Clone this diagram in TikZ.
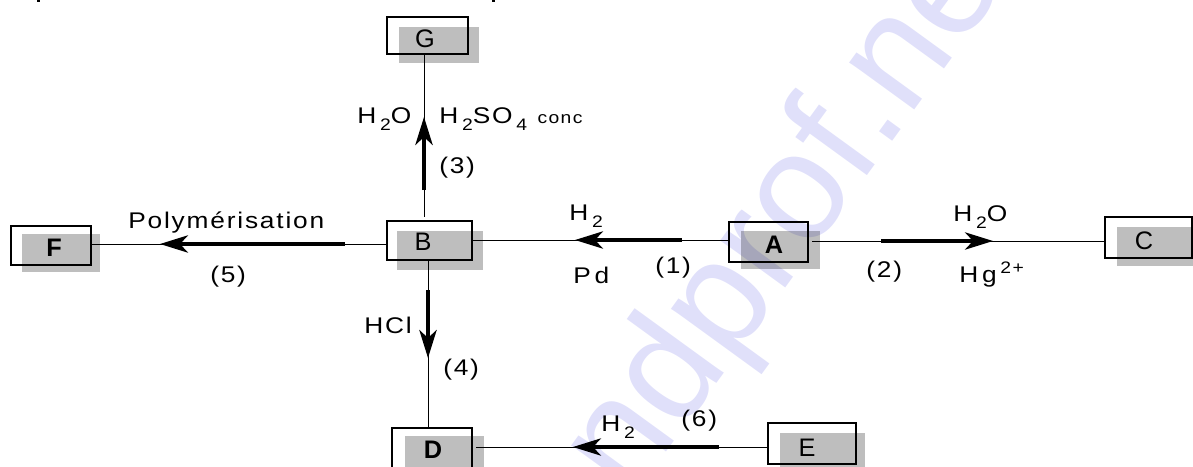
\documentclass[tikz,border=0pt]{standalone}
\usepackage{fontspec}
\setmainfont{Liberation Sans}
\newfontfamily\lab[LetterSpace=8,FakeStretch=1.16]{Liberation Sans}
\usetikzlibrary{arrows.meta,fit}
\definecolor{shade}{HTML}{BEBEBE}
\definecolor{wmark}{HTML}{E0E0FA}
\newcommand{\sbs}[1]{\raisebox{-5.5pt}{\fontsize{12.5}{12.5}\selectfont #1}}
\newcommand{\sps}[1]{\raisebox{6.5pt}{\fontsize{12.5}{12.5}\selectfont #1}}
\tikzset{
  x=0.75pt,y=-0.75pt,
  frame/.style={draw=black,line width=1.1pt,inner sep=0pt,outer sep=0pt,rectangle},
  shadow/.style={fill=shade,draw=none},
  letter/.style={inner sep=0pt,anchor=base,font=\fontsize{19}{19}\selectfont},
  boldletter/.style={letter,font=\fontsize{19}{19}\selectfont\bfseries},
  chem/.style={inner sep=0pt,anchor=base west,font=\lab\fontsize{17}{19}\selectfont},
  wire/.style={draw=black,line width=0.7pt},
  heavy/.style={draw=black,line width=2.3pt,-{Stealth[length=21pt,width=13pt,inset=6pt]}},
  heavyup/.style={heavy,line width=2.6pt},
}
\begin{document}
\begin{tikzpicture}
\useasboundingbox (0,0) rectangle (1193,467);
% shadows
\fill[shadow] (399,27) rectangle (479,63);
\fill[shadow] (397,231) rectangle (483,270);
\fill[shadow] (22,234) rectangle (100,272);
\fill[shadow] (741,231) rectangle (820,269);
\fill[shadow] (1117,227) rectangle (1193,266);
\fill[shadow] (405,436) rectangle (484,467);
\fill[shadow] (780,433) rectangle (865,467);
% cut-off strokes at the top edge
\fill[black] (37,0) rectangle (40,2);
\fill[black] (492,0) rectangle (495,2);
% boxes
\node[frame,fit={(387,17)(468,54)}] (G) {};
\node[frame,fit={(387,221)(472,260)}] (B) {};
\node[frame,fit={(11,226)(91,265)}] (F) {};
\node[frame,fit={(729,222)(808,262)}] (A) {};
\node[frame,fit={(1105,217)(1192,258)}] (C) {};
\node[frame,fit={(392,428)(472,470)}] (D) {};
\node[frame,fit={(768,423)(856,464)}] (E) {};
% box letters
\node[letter] (Gl) at (425,48) {G};
\node[letter] (Bl) at (423,250) {B};
\node[boldletter] (Fl) at (54,256) {F};
\node[boldletter] (Al) at (774,253) {A};
\node[letter] (Cl) at (1144,249) {C};
\node[boldletter] (Dl) at (433,458) {D};
\node[letter] (El) at (807,456) {E};
% anchors of the heavy parts
\coordinate (t3) at (424,190); \coordinate (h3) at (424,117);
\coordinate (t1) at (682,240); \coordinate (h1) at (575,240);
\coordinate (t5) at (345,244); \coordinate (h5) at (160,244);
\coordinate (t2) at (881,241); \coordinate (h2) at (993,241);
\coordinate (t4) at (428,290); \coordinate (h4) at (428,358);
\coordinate (t6) at (719,447); \coordinate (h6) at (573,447);
% connectors
\draw[wire,shorten >=3pt] (G.south -| t3) -- (B.north -| t3);
\draw[wire] (A.west |- t1) -- (B.east |- t1);
\draw[wire] (B.west |- t5) -- (F.east |- t5);
\draw[wire,shorten <=3pt] (A.east |- t2) -- (C.west |- t2);
\draw[wire] (B.south -| t4) -- (D.north -| t4);
\draw[wire,shorten >=3pt] (E.west |- t6) -- (D.east |- t6);
\draw[heavyup] (t3) -- (h3);
\draw[heavy] (t1) -- (h1);
\draw[heavy] (t5) -- (h5);
\draw[heavy] (t2) -- (h2);
\draw[heavyup] (t4) -- (h4);
\draw[heavy] (t6) -- (h6);
% labels
\node[chem] (l1) at (357,123) {H\,\sbs{2}O};
\node[chem] (l2) at (439,123) {H\,\sbs{2}SO\,\sbs{4}\,{\fontsize{12.5}{12.5}\selectfont\ conc}};
\node[chem] (l3) at (439,173) {(3)};
\node[chem] (l4) at (569,220) {H\,\sbs{2}};
\node[chem] (l5) at (573,283) {P\,d};
\node[chem] (l6) at (655,273) {(1)};
\node[chem] (l7) at (866,277) {(2)};
\node[chem] (l8) at (953,221) {H\,\sbs{2}O};
\node[chem] (l9) at (959,282) {H\,g\,\sps{2+}};
\node[chem] (l10) at (128,228) {Polymérisation};
\node[chem] (l11) at (210,282) {(5)};
\node[chem] (l12) at (364,333) {HCl};
\node[chem] (l13) at (443,375) {(4)};
\node[chem] (l14) at (681,426) {(6)};
\node[chem] (l15) at (601,431) {H\,\sbs{2}};
% watermark
\begin{scope}[blend mode=multiply]
\clip (0,0) rectangle (1193,467);
\node[inner sep=0pt,anchor=base west,rotate=54,text=wmark,font=\fontsize{114}{114}\selectfont] (wm) at (581,570) {endprof.net};
\end{scope}
\end{tikzpicture}
\end{document}
